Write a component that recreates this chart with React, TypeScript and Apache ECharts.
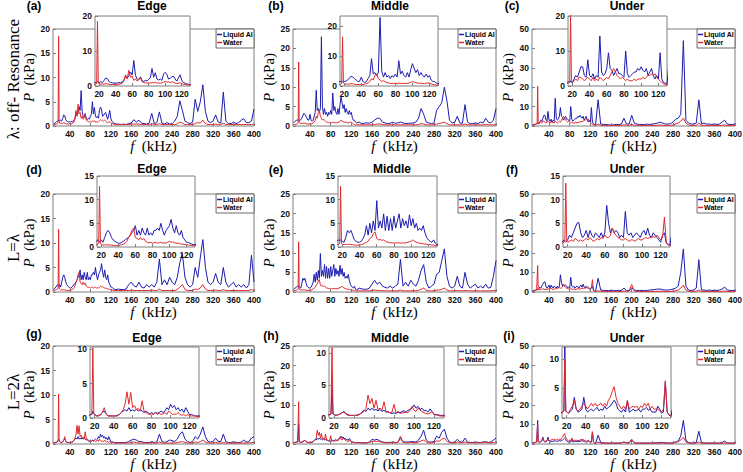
import React, { useEffect, useRef } from "react";
import * as echarts from "echarts";

// Frequency grid (kHz): 8..19, 20..130 every 2, 135..400 every 5
const FREQ = [
  8, 11, 14, 16, 17, 18, 19,
  20, 22, 24, 26, 28, 30, 32, 34, 36, 38,
  40, 42, 44, 46, 48, 50, 52, 54, 56, 58,
  60, 62, 64, 66, 68, 70, 72, 74, 76, 78,
  80, 82, 84, 86, 88, 90, 92, 94, 96, 98,
  100, 102, 104, 106, 108, 110, 112, 114, 116, 118,
  120, 122, 124, 126, 128, 130,
  135, 140, 145, 150, 155, 160, 165, 170, 175, 180,
  185, 190, 195, 200, 205, 210, 215, 220, 225, 230,
  235, 240, 245, 250, 255, 260, 265, 270, 275, 280,
  285, 290, 295, 300, 305, 310, 315, 320, 325, 330,
  335, 340, 345, 350, 355, 360, 365, 370, 375, 380,
  385, 390, 395, 400,
];

// (a) off-resonance, Edge
const A_AL = [
  0.4, 0.6, 0.9, 1.0, 1.1, 1.2, 1.0,
  1.0, 1.2, 1.0, 1.6, 2.3, 2.1, 1.3, 1.0, 0.9, 0.8,
  0.9, 0.8, 1.0, 0.9, 1.2, 1.6, 2.8, 2.2, 3.0, 4.0,
  3.2, 7.3, 3.0, 2.0, 1.8, 2.6, 1.5, 1.3, 1.6, 1.4,
  1.9, 2.4, 5.0, 2.5, 3.8, 2.0, 1.7, 2.0, 1.6, 3.4,
  3.9, 3.3, 2.0, 2.2, 2.6, 2.8, 2.0, 1.4, 2.3, 3.2,
  1.6, 1.0, 0.8, 0.6, 0.5, 0.4,
  0.4, 0.3, 0.4, 0.3, 0.5, 0.6, 1.3, 0.8, 1.2, 0.6,
  0.5, 0.4, 0.6, 2.6, 0.5, 0.7, 2.9, 0.6, 0.4, 0.7,
  0.4, 0.5, 1.0, 2.0, 5.2, 3.2, 1.0, 0.7, 0.5, 0.8,
  5.5, 3.0, 5.0, 8.5, 3.0, 1.0, 0.7, 1.0, 2.3, 0.8,
  0.6, 7.0, 1.0, 0.5, 0.5, 0.8, 0.5, 0.7, 1.2, 1.5,
  0.7, 0.7, 1.0, 3.5,
];
const A_W = [
  0.2, 0.3, 0.4, 0.5, 0.8, 18.5, 1.0,
  0.6, 0.5, 0.6, 0.5, 0.7, 0.6, 0.5, 0.4, 0.4, 0.4,
  0.5, 0.4, 0.5, 0.6, 0.8, 1.5, 3.2, 2.0, 4.5, 2.5,
  2.8, 1.6, 2.0, 1.4, 1.8, 2.4, 1.2, 1.0, 0.9, 0.8,
  0.9, 0.8, 1.0, 0.9, 1.1, 0.8, 0.9, 0.8, 0.9, 1.1,
  1.3, 1.1, 1.2, 1.0, 1.2, 1.0, 0.8, 0.7, 0.8, 0.9,
  0.7, 0.5, 0.5, 0.4, 0.3, 0.3,
  0.3, 0.3, 0.3, 0.3, 0.3, 0.4, 0.4, 0.4, 0.4, 0.3,
  0.3, 0.3, 0.3, 0.5, 0.3, 0.3, 0.5, 0.3, 0.3, 0.3,
  0.3, 0.3, 0.3, 0.4, 0.8, 0.6, 0.3, 0.3, 0.3, 0.3,
  0.5, 0.7, 0.6, 1.2, 0.5, 0.3, 0.3, 0.3, 0.4, 0.3,
  0.3, 0.6, 0.3, 0.3, 0.3, 0.3, 0.3, 0.3, 0.3, 0.3,
  0.3, 0.3, 0.3, 0.4,
];

// (b) off-resonance, Middle
const B_AL = [
  0.8, 1.2, 1.5, 1.5, 1.4, 1.6, 1.4,
  1.5, 1.6, 2.0, 2.6, 3.3, 3.0, 2.5, 2.0, 1.5, 1.6,
  3.0, 1.5, 1.2, 1.5, 2.5, 3.5, 9.2, 4.0, 4.5, 3.5,
  4.5, 23.0, 5.0, 3.0, 4.5, 3.0, 3.5, 2.5, 3.5, 3.0,
  4.0, 3.0, 8.5, 4.0, 5.0, 3.5, 3.0, 4.5, 3.0, 5.5,
  7.5, 6.0, 4.5, 5.5, 3.5, 4.5, 3.5, 3.0, 4.0, 3.0,
  3.5, 2.0, 1.5, 1.5, 1.0, 0.8,
  1.0, 0.6, 0.7, 0.8, 0.7, 1.0, 1.5, 2.0, 2.0, 1.0,
  0.8, 0.6, 0.7, 1.0, 0.7, 0.8, 1.0, 0.8, 0.6, 0.7,
  0.7, 0.8, 1.0, 2.0, 4.5, 3.0, 1.0, 0.8, 0.6, 0.8,
  4.0, 5.0, 6.0, 10.0, 6.5, 1.5, 0.8, 0.9, 2.5, 0.8,
  0.7, 5.5, 1.0, 0.6, 0.6, 0.8, 0.6, 1.0, 0.8, 2.0,
  1.0, 0.8, 1.5, 4.5,
];
const B_W = [
  0.3, 0.4, 0.5, 0.6, 0.9, 16.5, 1.0,
  0.8, 0.6, 0.7, 0.6, 0.8, 0.7, 0.6, 0.5, 0.5, 0.5,
  0.6, 0.5, 0.6, 0.8, 1.0, 1.5, 2.5, 2.0, 3.5, 4.0,
  2.5, 2.0, 1.5, 1.8, 1.4, 1.2, 1.0, 0.9, 0.8, 0.9,
  0.9, 0.8, 1.0, 0.9, 0.8, 0.9, 0.8, 0.9, 1.0, 1.2,
  1.5, 1.3, 1.1, 1.0, 0.9, 1.0, 0.8, 0.8, 0.9, 1.0,
  1.0, 0.7, 0.5, 0.4, 0.3, 0.3,
  0.3, 0.3, 0.3, 0.3, 0.3, 0.3, 0.4, 0.5, 0.5, 0.4,
  0.3, 0.3, 0.3, 0.3, 0.3, 0.3, 0.3, 0.3, 0.3, 0.3,
  0.3, 0.3, 0.3, 0.4, 0.6, 0.5, 0.3, 0.3, 0.3, 0.3,
  0.5, 0.6, 0.8, 1.0, 0.6, 0.3, 0.3, 0.3, 0.3, 0.3,
  0.3, 0.5, 0.3, 0.3, 0.3, 0.3, 0.3, 0.3, 0.3, 0.4,
  0.3, 0.3, 0.3, 0.4,
];

// (c) off-resonance, Under
const C_AL = [
  0.5, 0.8, 1.0, 1.2, 1.0, 1.5, 1.0,
  1.0, 2.0, 3.0, 2.5, 4.0, 5.5, 5.5, 3.0, 2.5, 7.5,
  3.0, 2.5, 3.5, 2.0, 3.0, 2.5, 14.3, 4.0, 3.0, 3.5,
  5.0, 9.5, 5.0, 4.5, 3.0, 4.0, 5.0, 3.5, 3.5, 3.0,
  2.5, 10.0, 3.5, 2.5, 3.0, 3.5, 4.0, 4.0, 5.0, 4.5,
  5.5, 4.5, 4.0, 5.0, 3.0, 4.0, 5.0, 3.0, 2.0, 3.0,
  2.0, 9.5, 2.0, 1.0, 0.8, 0.6,
  13.5, 1.0, 0.8, 0.8, 0.6, 0.5, 0.6, 0.8, 0.7, 1.0,
  4.0, 1.0, 1.0, 5.5, 1.5, 1.0, 0.8, 0.8, 0.7, 1.0,
  0.8, 1.0, 1.2, 1.5, 2.0, 1.5, 1.0, 1.0, 1.2, 2.0,
  3.5, 4.0, 6.0, 44.0, 3.0, 1.5, 1.0, 1.0, 1.5, 13.5,
  1.0, 1.5, 1.0, 1.0, 0.8, 1.0, 0.8, 1.0, 2.0, 3.0,
  1.0, 0.8, 0.8, 1.0,
];
const C_W = [
  0.3, 0.5, 0.8, 1.0, 1.5, 20.5, 1.5,
  1.0, 1.5, 2.0, 1.5, 2.5, 2.5, 2.0, 1.5, 2.0, 2.5,
  2.0, 1.5, 2.5, 1.5, 2.0, 1.5, 2.5, 2.0, 1.5, 2.0,
  2.5, 2.0, 3.0, 4.0, 5.0, 4.0, 3.0, 2.5, 2.0, 2.5,
  2.0, 1.5, 2.0, 1.5, 1.5, 1.5, 2.0, 1.5, 2.0, 2.0,
  2.0, 2.5, 2.0, 2.5, 3.0, 3.0, 3.5, 3.0, 3.5, 2.5,
  2.0, 1.5, 1.0, 0.6, 0.4, 0.3,
  1.0, 0.4, 0.3, 0.3, 0.3, 0.3, 0.3, 0.3, 0.3, 0.4,
  0.6, 0.4, 0.4, 0.8, 0.4, 0.3, 0.3, 0.3, 0.3, 0.3,
  0.3, 0.3, 0.3, 0.4, 0.5, 0.4, 0.3, 0.3, 0.3, 0.5,
  1.0, 1.5, 2.5, 4.0, 1.5, 0.5, 0.3, 0.3, 0.4, 1.5,
  0.3, 0.3, 0.3, 0.3, 0.3, 0.3, 0.3, 0.3, 0.4, 0.5,
  0.3, 0.3, 0.3, 0.3,
];

// (d) L=λ, Edge
const D_AL = [
  0.5, 0.8, 1.2, 1.5, 1.3, 1.0, 1.2,
  1.5, 1.0, 2.0, 3.0, 3.5, 3.0, 2.0, 1.5, 1.2, 1.0,
  0.8, 0.8, 1.0, 1.2, 1.5, 1.8, 2.0, 2.5, 3.0, 3.5,
  4.5, 2.5, 3.5, 2.5, 4.0, 3.0, 2.5, 4.0, 2.5, 3.0,
  2.5, 3.5, 3.5, 4.0, 3.5, 5.0, 3.5, 2.5, 3.5, 4.0,
  4.5, 5.8, 4.0, 3.0, 4.5, 3.0, 2.5, 3.5, 2.0, 1.5,
  1.0, 1.0, 0.8, 0.6, 0.5, 0.5,
  0.6, 0.5, 0.5, 0.6, 1.5, 2.0, 1.3, 1.0, 2.0, 1.0,
  0.8, 1.5, 1.0, 1.5, 1.0, 2.0, 6.7, 1.5, 2.5, 1.5,
  3.0, 2.0, 1.5, 3.0, 6.0, 7.8, 3.0, 1.5, 1.0, 1.5,
  5.0, 3.0, 7.0, 10.7, 5.0, 2.0, 1.5, 2.0, 3.8, 2.0,
  1.5, 5.0, 2.0, 1.0, 1.5, 2.0, 1.0, 1.5, 1.0, 1.5,
  0.8, 1.5, 7.5, 2.0,
];
const D_W = [
  0.3, 0.4, 0.5, 0.6, 0.8, 12.8, 0.8,
  0.6, 0.4, 0.5, 0.4, 0.5, 0.4, 0.4, 0.3, 0.3, 0.3,
  0.3, 0.4, 0.5, 0.6, 0.8, 1.2, 2.0, 2.5, 3.5, 4.0,
  2.0, 1.8, 1.5, 2.0, 1.5, 1.8, 1.2, 1.0, 0.9, 1.0,
  0.8, 0.9, 1.0, 0.8, 0.9, 1.0, 0.8, 0.9, 0.8, 1.0,
  1.2, 1.0, 1.1, 0.9, 0.8, 0.8, 0.7, 0.6, 0.6, 0.5,
  0.5, 0.4, 0.4, 0.3, 0.3, 0.3,
  0.3, 0.3, 0.3, 0.3, 0.3, 0.4, 0.3, 0.3, 0.3, 0.3,
  0.3, 0.3, 0.3, 0.4, 0.3, 0.3, 0.6, 0.3, 0.3, 0.3,
  0.3, 0.3, 0.3, 0.5, 1.0, 1.5, 0.5, 0.3, 0.3, 0.3,
  0.6, 0.5, 0.8, 1.5, 0.6, 0.3, 0.3, 0.3, 0.4, 0.3,
  0.3, 0.5, 0.3, 0.3, 0.3, 0.3, 0.3, 0.3, 0.3, 0.3,
  0.3, 0.3, 0.5, 0.3,
];

// (e) L=λ, Middle
const E_AL = [
  0.6, 1.0, 1.3, 1.5, 1.4, 1.5, 1.3,
  1.2, 1.0, 2.0, 3.5, 3.0, 3.5, 2.5, 1.5, 1.2, 1.0,
  1.0, 1.2, 1.8, 2.5, 4.5, 2.5, 5.0, 3.0, 5.5, 3.5,
  9.8, 4.0, 5.5, 4.0, 7.0, 3.5, 6.5, 3.5, 6.0, 3.5,
  6.5, 4.0, 5.5, 7.0, 4.0, 6.0, 4.5, 5.5, 4.0, 6.8,
  4.5, 6.0, 4.0, 5.0, 3.5, 4.0, 3.5, 4.5, 3.0, 2.0,
  1.5, 1.2, 1.0, 1.5, 0.8, 0.5,
  1.0, 0.8, 0.7, 0.7, 1.0, 2.0, 3.0, 2.0, 2.5, 1.5,
  1.2, 1.0, 1.5, 1.0, 1.5, 2.0, 8.3, 1.5, 2.5, 1.5,
  3.0, 2.0, 1.5, 3.0, 5.5, 7.0, 2.5, 1.0, 1.5, 2.0,
  4.5, 5.0, 8.0, 11.0, 4.0, 1.5, 1.0, 1.5, 4.0, 1.5,
  1.0, 5.0, 2.0, 1.0, 1.5, 2.0, 1.0, 1.5, 1.0, 2.0,
  1.0, 1.2, 4.0, 8.0,
];
const E_W = [
  0.3, 0.4, 0.5, 0.6, 0.8, 12.8, 0.8,
  0.6, 0.5, 0.6, 0.5, 0.6, 0.5, 0.5, 0.4, 0.4, 0.4,
  0.4, 0.5, 0.6, 0.8, 1.0, 1.2, 1.8, 2.0, 2.8, 3.2,
  1.8, 1.5, 1.6, 1.4, 1.5, 1.2, 1.0, 1.0, 0.9, 0.9,
  0.8, 0.9, 0.8, 0.9, 0.8, 0.9, 0.8, 0.9, 1.0, 1.1,
  1.2, 1.5, 1.2, 1.0, 0.9, 0.8, 0.7, 0.7, 0.6, 0.6,
  0.5, 0.5, 0.4, 0.4, 0.3, 0.3,
  0.3, 0.3, 0.3, 0.3, 0.3, 0.4, 0.5, 0.4, 0.4, 0.3,
  0.3, 0.3, 0.3, 0.3, 0.3, 0.3, 0.5, 0.3, 0.3, 0.3,
  0.3, 0.3, 0.3, 0.4, 0.7, 1.0, 0.4, 0.3, 0.3, 0.3,
  0.5, 0.5, 0.7, 1.0, 0.5, 0.3, 0.3, 0.3, 0.4, 0.3,
  0.3, 0.4, 0.3, 0.3, 0.3, 0.3, 0.3, 0.3, 0.3, 0.3,
  0.3, 0.3, 0.4, 0.3,
];

// (f) L=λ, Under
const F_AL = [
  0.5, 0.8, 1.0, 1.5, 1.2, 1.0, 1.2,
  1.5, 2.5, 2.0, 3.0, 4.0, 5.0, 5.2, 3.0, 2.0, 2.5,
  3.5, 2.0, 3.5, 2.5, 2.0, 3.0, 2.5, 2.0, 3.0, 2.0,
  3.0, 8.8, 5.0, 3.0, 4.0, 3.0, 3.5, 3.0, 2.0, 2.5,
  2.0, 7.5, 3.0, 2.5, 3.0, 2.0, 2.5, 3.0, 2.5, 2.0,
  3.0, 3.5, 2.5, 4.0, 2.5, 2.0, 3.0, 2.5, 2.0, 1.5,
  1.0, 2.5, 3.0, 0.8, 0.5, 0.4,
  7.0, 1.0, 0.8, 0.8, 0.7, 0.8, 0.7, 0.7, 0.8, 0.8,
  2.0, 0.8, 0.8, 2.0, 1.0, 0.8, 0.8, 0.8, 0.7, 0.8,
  1.0, 1.2, 1.3, 1.5, 1.5, 1.2, 1.0, 1.0, 1.2, 1.5,
  2.0, 3.0, 10.0, 22.0, 3.0, 1.0, 0.8, 1.0, 2.0, 16.5,
  1.0, 1.0, 0.8, 1.0, 0.8, 0.8, 0.8, 1.0, 1.5, 2.5,
  1.0, 0.8, 0.8, 0.8,
];
const F_W = [
  0.3, 0.5, 0.8, 1.0, 1.2, 13.5, 1.2,
  1.0, 1.2, 1.5, 1.2, 1.8, 1.5, 1.2, 1.5, 1.2, 1.5,
  1.8, 1.5, 2.0, 1.5, 1.2, 1.5, 1.8, 1.5, 2.0, 1.8,
  2.5, 2.0, 2.0, 2.5, 4.0, 3.0, 2.5, 2.0, 1.8, 1.5,
  1.5, 1.8, 1.5, 1.2, 1.5, 1.5, 1.2, 1.5, 1.8, 1.5,
  1.5, 1.8, 2.0, 1.8, 2.0, 2.0, 2.2, 2.0, 2.5, 2.0,
  1.5, 2.0, 6.3, 1.0, 0.5, 0.3,
  0.6, 0.4, 0.3, 0.3, 0.3, 0.3, 0.3, 0.3, 0.3, 0.3,
  0.5, 0.4, 0.5, 3.8, 0.5, 0.3, 0.3, 0.3, 0.3, 0.3,
  0.3, 0.3, 0.3, 0.4, 0.4, 0.4, 0.3, 0.3, 0.3, 0.4,
  0.6, 1.0, 2.0, 3.5, 1.0, 0.4, 0.3, 0.3, 0.4, 1.0,
  0.3, 0.3, 0.3, 0.3, 0.3, 0.3, 0.3, 0.3, 0.3, 0.5,
  0.3, 0.3, 0.3, 0.3,
];

// (g) L=2λ, Edge
const G_AL = [
  0.2, 0.3, 0.4, 0.5, 0.5, 1.0, 0.6,
  0.5, 0.3, 0.3, 0.5, 0.8, 1.0, 0.6, 0.3, 0.3, 0.3,
  0.3, 0.3, 0.4, 0.5, 0.8, 1.0, 1.2, 1.0, 1.5, 1.0,
  1.2, 1.0, 1.3, 1.0, 1.2, 1.0, 0.8, 1.0, 0.8, 0.6,
  0.8, 0.6, 0.8, 0.7, 0.8, 1.0, 0.8, 1.0, 1.5, 1.2,
  2.0, 1.5, 1.8, 1.2, 1.5, 1.0, 1.3, 0.8, 1.5, 1.0,
  0.5, 0.5, 0.4, 0.3, 0.3, 0.3,
  0.3, 0.3, 0.3, 0.3, 0.5, 0.8, 1.0, 0.8, 0.5, 0.5,
  0.3, 0.3, 0.3, 0.5, 0.3, 0.4, 2.0, 0.5, 0.3, 0.5,
  0.8, 0.7, 0.5, 1.0, 2.0, 2.5, 1.0, 0.5, 0.3, 0.5,
  1.5, 1.0, 2.0, 3.5, 1.5, 0.5, 0.4, 0.5, 1.2, 0.5,
  0.5, 2.0, 0.5, 0.3, 0.3, 0.5, 0.3, 0.3, 0.4, 0.8,
  0.4, 0.5, 1.2, 1.5,
];
const G_W = [
  0.2, 0.3, 0.4, 0.5, 0.6, 10.2, 0.6,
  0.5, 0.3, 0.4, 0.4, 0.8, 1.5, 0.6, 0.3, 0.3, 0.3,
  0.3, 0.3, 0.3, 0.5, 0.8, 1.2, 2.0, 3.8, 2.0, 3.7,
  1.5, 1.8, 1.2, 1.4, 1.0, 2.5, 1.0, 0.8, 0.6, 0.5,
  0.6, 0.5, 0.8, 0.5, 0.7, 0.5, 0.6, 0.8, 0.5, 1.0,
  0.8, 0.5, 0.6, 0.5, 0.8, 0.5, 0.4, 0.5, 0.3, 0.5,
  0.3, 0.3, 0.3, 0.3, 0.2, 0.2,
  0.2, 0.2, 0.2, 0.2, 0.2, 0.3, 0.4, 0.3, 0.2, 0.2,
  0.2, 0.2, 0.2, 0.3, 0.2, 0.2, 0.4, 0.2, 0.2, 0.2,
  0.2, 0.2, 0.2, 0.3, 0.4, 0.5, 0.3, 0.2, 0.2, 0.2,
  0.4, 0.3, 0.5, 0.8, 0.4, 0.2, 0.2, 0.2, 0.3, 0.2,
  0.2, 0.3, 0.2, 0.2, 0.2, 0.2, 0.2, 0.2, 0.2, 0.2,
  0.2, 0.2, 0.3, 0.3,
];

// (h) L=2λ, Middle
const H_AL = [
  0.3, 0.4, 0.5, 0.5, 0.6, 5.0, 0.6,
  0.5, 0.4, 0.5, 0.6, 0.8, 1.0, 0.7, 0.5, 0.4, 0.4,
  0.4, 0.4, 0.5, 0.6, 0.9, 1.2, 1.0, 1.5, 1.2, 1.5,
  1.2, 1.3, 1.1, 1.3, 1.0, 1.2, 0.9, 1.0, 0.8, 0.7,
  0.8, 0.7, 0.9, 0.8, 1.0, 1.1, 0.9, 1.2, 1.3, 1.5,
  2.0, 1.5, 1.8, 1.3, 1.5, 1.1, 1.2, 0.9, 1.4, 1.0,
  0.6, 0.5, 0.5, 0.4, 0.4, 0.4,
  0.4, 0.3, 0.3, 0.3, 0.5, 1.2, 1.0, 1.2, 0.8, 0.5,
  0.4, 0.4, 0.4, 0.5, 0.4, 0.4, 1.5, 0.5, 0.5, 0.5,
  0.6, 0.6, 0.5, 1.0, 2.0, 3.5, 1.0, 0.5, 0.5, 0.6,
  2.0, 1.5, 3.0, 3.8, 1.5, 0.5, 0.4, 0.5, 1.2, 0.5,
  0.5, 1.5, 0.5, 0.4, 0.4, 0.5, 0.4, 0.4, 0.5, 0.6,
  0.4, 0.5, 1.0, 1.5,
];
const H_W = [
  0.3, 0.4, 0.5, 0.5, 0.6, 10.8, 0.6,
  0.5, 0.4, 0.5, 0.6, 0.8, 0.9, 0.6, 0.4, 0.4, 0.4,
  0.4, 0.4, 0.4, 0.6, 0.8, 1.0, 1.5, 3.5, 2.2, 3.0,
  1.5, 2.7, 1.3, 1.5, 1.2, 2.5, 1.0, 0.9, 0.8, 0.9,
  2.1, 0.8, 1.0, 0.7, 0.8, 0.8, 0.9, 0.8, 1.2, 1.8,
  1.2, 1.0, 1.5, 1.2, 1.0, 0.8, 0.7, 0.6, 0.8, 1.0,
  0.5, 0.5, 0.4, 0.3, 0.3, 0.3,
  0.3, 0.3, 0.3, 0.3, 0.4, 0.7, 0.7, 0.7, 0.6, 0.4,
  0.3, 0.3, 0.3, 0.4, 0.3, 0.4, 2.0, 0.4, 0.3, 0.3,
  0.4, 0.4, 0.3, 0.5, 0.8, 1.0, 0.5, 0.3, 0.3, 0.4,
  0.8, 0.7, 1.2, 1.5, 0.7, 0.3, 0.3, 0.3, 0.5, 0.3,
  0.3, 0.5, 0.3, 0.3, 0.3, 0.3, 0.3, 0.3, 0.3, 0.4,
  0.3, 0.3, 0.4, 0.5,
];

// (i) L=2λ, Under
const I_AL = [
  0.5, 0.7, 0.9, 1.0, 1.2, 12.0, 1.2,
  1.0, 0.8, 1.2, 1.5, 3.5, 1.5, 1.0, 1.2, 1.5, 3.5,
  1.5, 1.0, 1.3, 1.5, 1.2, 1.5, 1.8, 1.2, 1.5, 1.3,
  2.0, 1.5, 1.8, 2.0, 2.5, 3.0, 2.5, 1.5, 1.2, 1.0,
  1.5, 1.0, 2.8, 1.0, 1.2, 1.5, 1.2, 1.3, 1.5, 1.0,
  1.5, 1.5, 1.8, 1.3, 1.5, 1.0, 1.0, 1.0, 2.0, 1.5,
  0.8, 1.0, 6.0, 1.0, 0.5, 0.3,
  4.5, 0.8, 0.6, 0.5, 0.5, 0.5, 0.5, 0.5, 0.5, 0.6,
  1.0, 0.6, 0.6, 2.0, 0.6, 0.5, 0.5, 0.5, 0.5, 0.5,
  0.5, 0.5, 0.6, 0.6, 0.8, 0.8, 0.6, 0.5, 0.5, 0.6,
  1.0, 1.5, 4.0, 12.0, 2.0, 0.8, 0.5, 0.5, 0.8, 6.5,
  0.8, 0.5, 0.5, 0.5, 0.5, 0.5, 0.5, 0.5, 0.8, 1.5,
  0.5, 0.5, 0.5, 0.5,
];
const I_W = [
  0.4, 0.6, 0.8, 1.0, 1.2, 10.0, 1.2,
  1.0, 0.8, 1.5, 2.0, 3.0, 1.5, 1.2, 1.5, 2.0, 2.5,
  2.0, 1.5, 2.0, 2.5, 2.0, 2.5, 2.0, 2.2, 2.5, 2.0,
  2.5, 2.0, 3.0, 3.5, 4.5, 5.3, 3.5, 2.5, 2.0, 1.5,
  2.0, 1.5, 3.0, 1.5, 1.8, 2.0, 1.8, 2.0, 1.5, 2.0,
  1.8, 2.5, 2.0, 2.5, 1.5, 2.0, 1.5, 1.5, 1.5, 1.2,
  1.0, 1.5, 6.3, 1.0, 0.5, 0.3,
  1.0, 0.5, 0.4, 0.4, 0.4, 0.4, 0.4, 0.4, 0.4, 0.5,
  1.0, 0.5, 0.5, 2.5, 0.5, 0.4, 0.4, 0.4, 0.4, 0.4,
  0.4, 0.4, 0.4, 0.4, 0.5, 0.5, 0.4, 0.4, 0.4, 0.5,
  0.8, 1.2, 2.0, 3.5, 1.0, 0.5, 0.4, 0.4, 0.5, 1.0,
  0.4, 0.4, 0.4, 0.4, 0.4, 0.4, 0.4, 0.4, 0.4, 0.5,
  0.4, 0.4, 0.4, 0.4,
];

const SERIES_NAMES = ["Liquid Al", "Water"];
const LIQUID_AL = [A_AL, B_AL, C_AL, D_AL, E_AL, F_AL, G_AL, H_AL, I_AL];
const WATER = [A_W, B_W, C_W, D_W, E_W, F_W, G_W, H_W, I_W];
const PANEL_LETTERS = ["(a)", "(b)", "(c)", "(d)", "(e)", "(f)", "(g)", "(h)", "(i)"];
const COLUMN_TITLES = ["Edge", "Middle", "Under"];
const ROW_LABELS = ["λ: off- Resonance", "L=λ", "L=2λ"];
const MAIN_X_TICKS = [40, 80, 120, 160, 200, 240, 280, 320, 360, 400];
const INSET_X_TICKS = [20, 40, 60, 80, 100, 120];
const MAIN_Y_MAX = [20, 25, 50, 20, 25, 50, 20, 25, 50];
const MAIN_Y_TICKS = [
  [0, 5, 10, 15, 20], [0, 5, 10, 15, 20, 25], [0, 10, 20, 30, 40, 50],
  [0, 5, 10, 15, 20], [0, 5, 10, 15, 20, 25], [0, 10, 20, 30, 40, 50],
  [0, 5, 10, 15, 20], [0, 5, 10, 15, 20, 25], [0, 10, 20, 30, 40, 50],
];
const INSET_Y_MAX = [20, 23.5, 20, 15, 15, 15, 10.3, 10.9, 12];
const INSET_Y_TICKS = [
  [0, 10, 20], [0, 10, 20], [0, 10, 20],
  [0, 5, 10, 15], [0, 5, 10, 15], [0, 5, 10, 15],
  [0, 5, 10], [0, 5, 10], [0, 5, 10],
];

// ---- layout (pixels) ----
const W = 743, H = 472;
const COL_L = [53, 293, 532];
const COL_R = [254, 496, 735];
const ROW_T = [29, 194, 346];
const ROW_B = [126, 292, 444];
const INSET_BOX = [
  [95, 16, 190, 86], [340, 16, 438, 86], [568, 16, 667, 86],
  [97, 176, 195, 247], [338, 176, 437, 247], [563, 176, 670, 247],
  [90, 347, 199, 418], [329, 347, 444, 418], [562, 347, 671, 418],
];
const TITLE_X = [[152, 390, 627], [152, 392, 627], [147, 390, 627]];
const TITLE_Y = [6, 169, 338];
const LETTER_X = [[34, 276, 512], [34, 276, 512], [34, 271, 509]];
const LETTER_Y = [[6, 6, 6], [170, 170, 170], [334, 336, 336]];
const ROW_LABEL_Y = [79, 248, 392];

const BLUE = "#1c1cb0";
const RED = "#e0282c";
const AXIS = "#7f7f7f";
const SANS = "Liberation Sans, Arial, sans-serif";
const SERIF = "Liberation Serif, Times New Roman, serif";

function pairs(ys: number[]) {
  return FREQ.map((f, i) => [f, ys[i]]);
}

function buildOption() {
  const grid: any[] = [];
  const xAxis: any[] = [];
  const yAxis: any[] = [];
  const series: any[] = [];
  const legend: any[] = [];
  const graphic: any[] = [];
  const tickLabel = { fontSize: 8.5, fontWeight: "bold", fontFamily: SANS, color: "#111" };
  const nameStyle = (fs: number) => ({
    fontFamily: SERIF, fontSize: fs, color: "#000",
    rich: { i: { fontFamily: SERIF, fontSize: fs, fontStyle: "italic", color: "#000" } },
  });

  for (let k = 0; k < 9; k++) {
    const r = Math.floor(k / 3), c = k % 3;
    const gi = 2 * k, ii = 2 * k + 1;
    grid.push({
      left: COL_L[c], top: ROW_T[r], width: COL_R[c] - COL_L[c], height: ROW_B[r] - ROW_T[r],
      show: true, backgroundColor: "#fff", borderColor: AXIS, borderWidth: 1, z: 1,
      containLabel: false, outerBoundsMode: "none",
    });
    const [il, it, ir, ib] = INSET_BOX[k];
    grid.push({
      left: il, top: it, width: ir - il, height: ib - it,
      show: true, backgroundColor: "#fff", borderColor: AXIS, borderWidth: 1, z: 10,
      containLabel: false, outerBoundsMode: "none",
    });
    xAxis.push({
      type: "value", gridIndex: gi, min: 7, max: 400, z: 3,
      axisLine: { show: false },
      axisTick: { show: true, inside: true, length: 3, lineStyle: { color: AXIS }, customValues: MAIN_X_TICKS },
      axisLabel: { ...tickLabel, margin: 3, customValues: MAIN_X_TICKS },
      splitLine: { show: false },
      name: "{i|f}  (kHz)", nameLocation: "middle", nameGap: 11, nameTextStyle: nameStyle(15),
    });
    yAxis.push({
      type: "value", gridIndex: gi, min: 0, max: MAIN_Y_MAX[k], z: 3,
      axisLine: { show: false },
      axisTick: { show: true, inside: true, length: 3, lineStyle: { color: AXIS }, customValues: MAIN_Y_TICKS[k] },
      axisLabel: { ...tickLabel, margin: 3, customValues: MAIN_Y_TICKS[k] },
      splitLine: { show: false },
      name: "{i|P}  (kPa)", nameLocation: "middle", nameGap: 12, nameTextStyle: nameStyle(15),
    });
    xAxis.push({
      type: "value", gridIndex: ii, min: 15, max: 130, z: 13,
      axisLine: { show: false },
      axisTick: { show: true, inside: true, length: 3, lineStyle: { color: AXIS }, customValues: INSET_X_TICKS },
      axisLabel: { ...tickLabel, margin: 3, customValues: INSET_X_TICKS },
      splitLine: { show: false },
    });
    yAxis.push({
      type: "value", gridIndex: ii, min: 0, max: INSET_Y_MAX[k], z: 13,
      axisLine: { show: false },
      axisTick: { show: true, inside: true, length: 3, lineStyle: { color: AXIS }, customValues: INSET_Y_TICKS[k] },
      axisLabel: { ...tickLabel, margin: 3, customValues: INSET_Y_TICKS[k] },
      splitLine: { show: false },
    });
    const mk = (name: string, data: number[], color: string, axis: number, z: number) => ({
      type: "line", name, xAxisIndex: axis, yAxisIndex: axis, data: pairs(data),
      showSymbol: false, symbol: "none", silent: true, z,
      lineStyle: { width: 1, color }, itemStyle: { color },
    });
    series.push(mk(SERIES_NAMES[0], LIQUID_AL[k], BLUE, gi, 2));
    series.push(mk(SERIES_NAMES[1], WATER[k], RED, gi, 3));
    series.push(mk(SERIES_NAMES[0], LIQUID_AL[k], BLUE, ii, 11));
    series.push(mk(SERIES_NAMES[1], WATER[k], RED, ii, 12));

    legend.push({
      data: SERIES_NAMES, orient: "vertical", right: W - COL_R[c], top: ROW_T[r],
      icon: "rect", itemWidth: 5, itemHeight: 1.5, itemGap: 1, padding: [2, 1, 2, 1],
      borderColor: "#444", borderWidth: 0.8, backgroundColor: "#fff", borderRadius: 0,
      selectedMode: false, z: 5,
      textStyle: { fontSize: 7, fontWeight: "bold", fontFamily: SANS, color: "#000", padding: [0, 0, 0, -4] },
    });

    graphic.push({
      type: "text", x: TITLE_X[r][c], y: TITLE_Y[r], z: 20,
      style: { text: COLUMN_TITLES[c], fontSize: 12, fontWeight: "bold", fontFamily: SANS, fill: "#000",
        align: "center", verticalAlign: "middle", textAlign: "center", textVerticalAlign: "middle" },
    });
    graphic.push({
      type: "text", x: LETTER_X[r][c], y: LETTER_Y[r][c], z: 20,
      style: { text: PANEL_LETTERS[k], fontSize: 12, fontWeight: "bold", fontFamily: SANS, fill: "#000",
        align: "center", verticalAlign: "middle", textAlign: "center", textVerticalAlign: "middle" },
    });
  }
  for (let r = 0; r < 3; r++) {
    graphic.push({
      type: "text", x: 13, y: ROW_LABEL_Y[r], rotation: Math.PI / 2, z: 20,
      style: { text: ROW_LABELS[r], fontSize: 17, fontFamily: SERIF, fill: "#000",
        align: "center", verticalAlign: "middle", textAlign: "center", textVerticalAlign: "middle" },
    });
  }

  return {
    animation: false,
    backgroundColor: "#fff",
    grid, xAxis, yAxis, series, legend, graphic,
  };
}

export default function App() {
  const ref = useRef<HTMLDivElement>(null);
  useEffect(() => {
    if (!ref.current) return;
    const chart = echarts.init(ref.current, null, { renderer: "svg" });
    chart.setOption(buildOption() as any);
    return () => chart.dispose();
  }, []);
  return (
    <div
      ref={ref}
      style={{ position: "absolute", left: 0, top: 0, width: W, height: H, background: "#fff" }}
    />
  );
}
